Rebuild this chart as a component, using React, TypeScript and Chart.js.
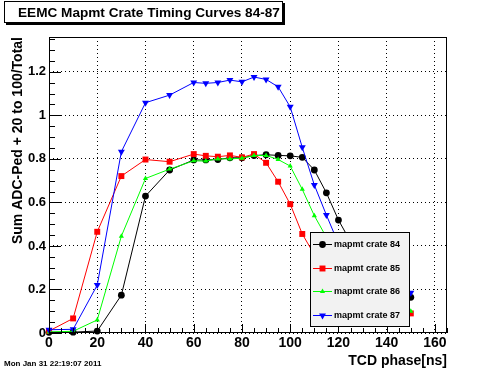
import React, { useEffect, useRef } from "react";
import { Chart, registerables } from "chart.js";

Chart.register(...registerables);

const FONT = "'Liberation Sans', Arial, Helvetica, sans-serif";

// TCD phase [ns]
const phases = [0, 10, 20, 30, 40, 50, 60, 65, 70, 75, 80, 85, 90, 95, 100, 105, 110, 115, 120, 125, 130, 140, 150];

const crate84 = [0.003, 0.004, 0.009, 0.174, 0.629, 0.749, 0.795, 0.795, 0.797, 0.805, 0.805, 0.815, 0.819, 0.816, 0.814, 0.807, 0.749, 0.644, 0.519, 0.42, 0.33, 0.22, 0.164];
const crate85 = [0.009, 0.067, 0.465, 0.721, 0.797, 0.787, 0.822, 0.814, 0.81, 0.816, 0.807, 0.822, 0.782, 0.695, 0.592, 0.455, 0.36, 0.27, 0.2, 0.16, 0.13, 0.1, 0.09];
const crate86 = [0.005, 0.008, 0.06, 0.445, 0.71, 0.753, 0.791, 0.79, 0.8, 0.8, 0.803, 0.815, 0.816, 0.797, 0.767, 0.66, 0.539, 0.44, 0.34, 0.26, 0.2, 0.13, 0.1];
const crate87 = [0.015, 0.017, 0.22, 0.833, 1.058, 1.093, 1.151, 1.147, 1.151, 1.162, 1.154, 1.176, 1.165, 1.131, 1.039, 0.853, 0.68, 0.542, 0.41, 0.31, 0.26, 0.2, 0.185];

const seriesLabels = ["mapmt crate 84", "mapmt crate 85", "mapmt crate 86", "mapmt crate 87"];
const seriesColors = ["#000000", "#ff0000", "#00ff00", "#0000ff"];

const titleText = "EEMC Mapmt Crate Timing Curves 84-87";
const xTitle = "TCD phase[ns]";
const yTitle = "Sum ADC-Ped + 20 to 100/Total";
const dateText = "Mon Jan 31 22:19:07 2011";

const xMin = 0, xMax = 165, xMajor = 20, xMinor = 5;
const yMin = 0, yMax = 1.36, yMajor = 0.2, yMinor = 0.05;

type Marker = { style: string; radius: number; rotation: number };
const markers: Marker[] = [
  { style: "circle", radius: 3.4, rotation: 0 },
  { style: "rect", radius: 4.2, rotation: 0 },
  { style: "triangle", radius: 3, rotation: 0 },
  { style: "triangle", radius: 4, rotation: 180 },
];

function drawMarker(ctx: CanvasRenderingContext2D, m: Marker, x: number, y: number, color: string) {
  ctx.save();
  ctx.fillStyle = color;
  ctx.beginPath();
  if (m.style === "circle") {
    ctx.arc(x, y, m.radius, 0, Math.PI * 2);
  } else if (m.style === "rect") {
    const s = m.radius * Math.SQRT1_2;
    ctx.rect(x - s, y - s, 2 * s, 2 * s);
  } else {
    let rad = (m.rotation * Math.PI) / 180;
    for (let i = 0; i < 3; i++) {
      const px = x + Math.sin(rad) * m.radius;
      const py = y - Math.cos(rad) * m.radius;
      if (i === 0) ctx.moveTo(px, py);
      else ctx.lineTo(px, py);
      rad += (2 * Math.PI) / 3;
    }
    ctx.closePath();
  }
  ctx.fill();
  ctx.restore();
}

const overlayPlugin = {
  id: "rootOverlay",
  afterDraw(chart: any) {
    const ctx: CanvasRenderingContext2D = chart.ctx;
    const { left, top, right, bottom } = chart.chartArea;
    const xs = chart.scales.x;
    const ys = chart.scales.y;
    ctx.save();
    ctx.strokeStyle = "#000";
    ctx.lineWidth = 1;
    ctx.setLineDash([]);

    // inner tick marks
    ctx.beginPath();
    const nx = Math.round((xMax - xMin) / xMinor);
    for (let i = 0; i <= nx; i++) {
      const v = xMin + i * xMinor;
      if (v > xMax) break;
      const px = Math.round(xs.getPixelForValue(v)) + 0.5;
      const major = Math.abs(v / xMajor - Math.round(v / xMajor)) < 1e-6;
      const len = major ? 9 : 5;
      ctx.moveTo(px, bottom);
      ctx.lineTo(px, bottom - len);
    }
    const ny = Math.round((yMax - yMin) / yMinor);
    for (let i = 0; i <= ny; i++) {
      const v = yMin + i * yMinor;
      if (v > yMax + 1e-9) break;
      const py = Math.round(ys.getPixelForValue(v)) + 0.5;
      const major = Math.abs(v / yMajor - Math.round(v / yMajor)) < 1e-6;
      const len = major ? 12 : 6;
      ctx.moveTo(left, py);
      ctx.lineTo(left + len, py);
    }
    ctx.stroke();

    // frame
    ctx.strokeRect(left + 0.5, top + 0.5, right - left - 1, bottom - top - 1);

    // legend
    const lx = 310, ly = 232, lw = 100, lh = 95;
    ctx.fillStyle = "#f2f2f2";
    ctx.fillRect(lx, ly, lw, lh);
    ctx.strokeStyle = "#000";
    ctx.strokeRect(lx + 0.5, ly + 0.5, lw - 1, lh - 1);
    ctx.font = `bold 9px ${FONT}`;
    ctx.textBaseline = "middle";
    ctx.textAlign = "left";
    for (let i = 0; i < seriesLabels.length; i++) {
      const yy = Math.round(ly + 12 + i * 23.7) + 0.5;
      ctx.strokeStyle = seriesColors[i];
      ctx.beginPath();
      ctx.moveTo(lx + 3, yy);
      ctx.lineTo(lx + 22, yy);
      ctx.stroke();
      drawMarker(ctx, markers[i], lx + 12.5, yy, seriesColors[i]);
      ctx.fillStyle = "#000";
      ctx.fillText(seriesLabels[i], lx + 24, yy);
    }

    // title box
    ctx.fillStyle = "#000";
    ctx.fillRect(6, 3, 279, 22);
    ctx.fillStyle = "#fff";
    ctx.fillRect(4, 1, 279, 22);
    ctx.strokeStyle = "#000";
    ctx.strokeRect(4.5, 1.5, 278, 21);
    ctx.fillStyle = "#000";
    ctx.font = `bold 13.6px ${FONT}`;
    ctx.textAlign = "left";
    ctx.textBaseline = "alphabetic";
    ctx.fillText(titleText, 18, 17);

    // date stamp
    ctx.font = `bold 8px ${FONT}`;
    ctx.fillText(dateText, 4, 366);
    ctx.restore();
  },
};

export default function App() {
  const ref = useRef<HTMLCanvasElement>(null);

  useEffect(() => {
    if (!ref.current) return;
    const allSeries = [crate84, crate85, crate86, crate87];
    const datasets = allSeries.map((vals, i) => ({
      label: seriesLabels[i],
      data: phases.map((x, k) => ({ x, y: vals[k] })),
      borderColor: seriesColors[i],
      backgroundColor: seriesColors[i],
      borderWidth: 1,
      pointStyle: markers[i].style as any,
      pointRadius: markers[i].radius,
      pointRotation: markers[i].rotation,
      pointBackgroundColor: seriesColors[i],
      pointBorderColor: seriesColors[i],
      pointBorderWidth: 0,
      tension: 0,
      fill: false,
      clip: false as any,
      order: 4 - i,
    }));

    const tickFont = { family: FONT, size: 14, weight: "bold" as const };
    const chart = new Chart(ref.current, {
      type: "line",
      data: { datasets },
      options: {
        responsive: false,
        animation: false,
        devicePixelRatio: 1,
        layout: { padding: { left: 0, top: 37, right: 49, bottom: 0 } },
        plugins: {
          legend: { display: false },
          tooltip: { enabled: false },
          title: { display: false },
        },
        scales: {
          x: {
            type: "linear",
            min: xMin,
            max: xMax,
            afterFit: (s: any) => {
              s.height = 39;
            },
            ticks: {
              stepSize: xMajor,
              includeBounds: false,
              autoSkip: false,
              maxRotation: 0,
              padding: 2,
              color: "#000",
              font: tickFont,
            },
            grid: { color: "#000", lineWidth: 1, drawTicks: false },
            border: { display: false, dash: [1, 3] },
            title: {
              display: true,
              text: xTitle,
              align: "end",
              color: "#000",
              font: { family: FONT, size: 14, weight: "bold" },
              padding: { top: 0, bottom: 2 },
            },
          },
          y: {
            type: "linear",
            min: yMin,
            max: yMax,
            afterFit: (s: any) => {
              s.width = 49;
            },
            ticks: {
              stepSize: yMajor,
              includeBounds: false,
              autoSkip: false,
              padding: 3,
              color: "#000",
              font: { family: FONT, size: 13, weight: "bold" },
              callback: (v: any) => String(Math.round(Number(v) * 10) / 10),
            },
            grid: { color: "#000", lineWidth: 1, drawTicks: false },
            border: { display: false, dash: [1, 3] },
            title: {
              display: true,
              text: yTitle,
              align: "end",
              color: "#000",
              font: { family: FONT, size: 14, weight: "bold" },
              padding: { top: 10, bottom: 0 },
            },
          },
        },
      },
      plugins: [overlayPlugin],
    });
    return () => chart.destroy();
  }, []);

  return (
    <div style={{ position: "fixed", left: 0, top: 0, width: 496, height: 372, background: "#fff" }}>
      <canvas ref={ref} width={496} height={372} style={{ display: "block", width: 496, height: 372 }} />
    </div>
  );
}
